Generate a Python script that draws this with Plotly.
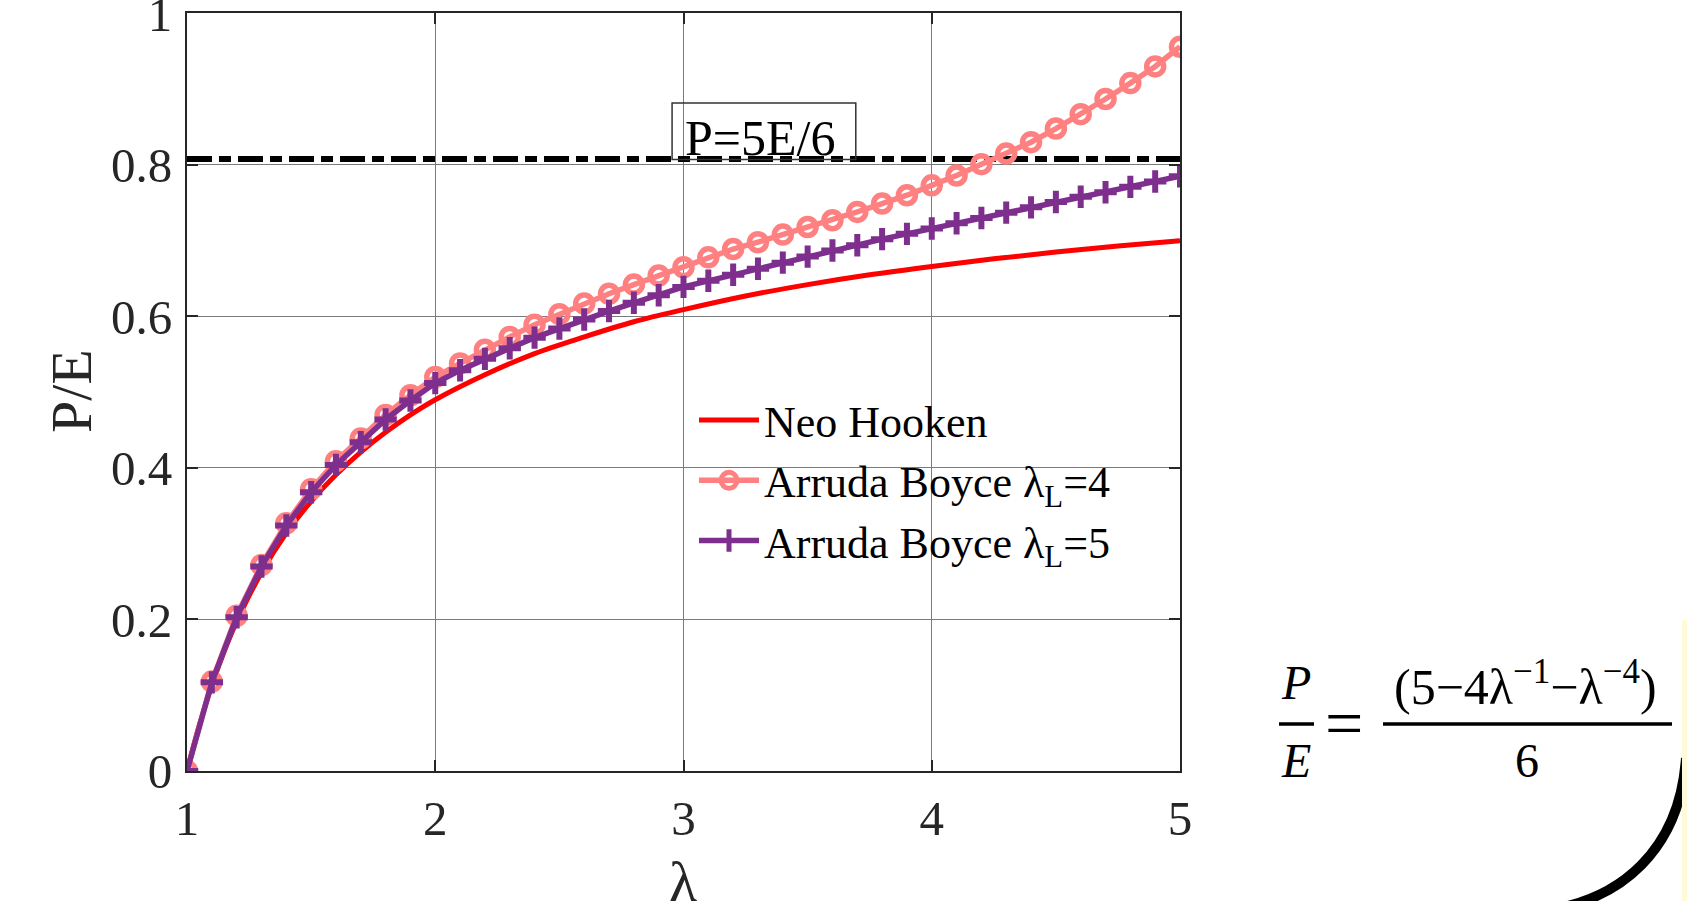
import plotly.graph_objects as go

# ---------------- data ----------------
lam = [1.0, 1.1, 1.2, 1.3, 1.4, 1.5, 1.6, 1.7, 1.8, 1.9,
       2.0, 2.1, 2.2, 2.3, 2.4, 2.5, 2.6, 2.7, 2.8, 2.9,
       3.0, 3.1, 3.2, 3.3, 3.4, 3.5, 3.6, 3.7, 3.8, 3.9,
       4.0, 4.1, 4.2, 4.3, 4.4, 4.5, 4.6, 4.7, 4.8, 4.9, 5.0]

ab4 = [0.000, 0.118, 0.205, 0.272, 0.327, 0.372, 0.409, 0.439, 0.470, 0.496,
       0.520, 0.538, 0.556, 0.573, 0.589, 0.603, 0.617, 0.630, 0.642, 0.654,
       0.665, 0.678, 0.689, 0.698, 0.708, 0.718, 0.727, 0.738, 0.749, 0.760,
       0.773, 0.786, 0.801, 0.815, 0.830, 0.848, 0.867, 0.887, 0.908, 0.930, 0.956]

ab5 = [0.000, 0.117, 0.203, 0.270, 0.324, 0.368, 0.404, 0.434, 0.464, 0.489,
       0.512, 0.529, 0.544, 0.558, 0.572, 0.584, 0.596, 0.607, 0.618, 0.628,
       0.639, 0.647, 0.655, 0.663, 0.671, 0.679, 0.687, 0.694, 0.702, 0.709,
       0.716, 0.723, 0.730, 0.737, 0.744, 0.751, 0.758, 0.764, 0.771, 0.778, 0.785]

lam_nh = [1.0, 1.05, 1.1, 1.15, 1.2, 1.3, 1.4, 1.5, 1.6, 1.7, 1.8, 1.9, 2.0,
          2.2, 2.4, 2.6, 2.8, 3.0, 3.25, 3.5, 3.75, 4.0, 4.25, 4.5, 4.75, 5.0]
neo = [0.000, 0.061, 0.113, 0.158, 0.197, 0.262, 0.314, 0.356, 0.391, 0.421,
       0.447, 0.470, 0.490, 0.523, 0.551, 0.573, 0.593, 0.609, 0.627, 0.642,
       0.655, 0.666, 0.676, 0.685, 0.693, 0.700]

limit_x = [1.0, 5.0]
limit_y = [0.8077, 0.8077]

x_ticks = [1, 2, 3, 4, 5]
y_ticks = [0, 0.2, 0.4, 0.6, 0.8, 1.0]
y_tick_text = ["0", "0.2", "0.4", "0.6", "0.8", "1"]

names = ["Neo Hooken", "Arruda Boyce λ<sub>L</sub>=4", "Arruda Boyce λ<sub>L</sub>=5"]

# ---------------- style ----------------
SERIF = "Liberation Serif, Times New Roman, serif"
RED = "#FF0000"
PINK = "#FF8080"
PURPLE = "#7E2F8E"
AXC = "#262626"

fig = go.Figure()

fig.add_trace(go.Scatter(x=limit_x, y=limit_y, mode="lines", showlegend=False,
                         line=dict(color="black", width=6, dash="25px,7px,12px,7px"),
                         hoverinfo="skip"))

fig.add_trace(go.Scatter(x=lam_nh, y=neo, mode="lines", name=names[0],
                         line=dict(color=RED, width=5, shape="spline")))

fig.add_trace(go.Scatter(x=lam, y=ab4, mode="lines+markers", name=names[1],
                         line=dict(color=PINK, width=5.5),
                         marker=dict(symbol="circle-open", size=17, color=PINK,
                                     line=dict(width=5.5, color=PINK))))

fig.add_trace(go.Scatter(x=lam, y=ab5, mode="lines+markers", name=names[2],
                         line=dict(color=PURPLE, width=5.5),
                         marker=dict(symbol="cross-thin-open", size=16, color=PURPLE,
                                     line=dict(width=6, color=PURPLE))))

axis_common = dict(
    showline=True, linecolor=AXC, linewidth=2, mirror="allticks",
    ticks="inside", ticklen=11, tickwidth=2, tickcolor=AXC,
    showgrid=True, gridcolor="#7a7a7a", gridwidth=1.3,
    zeroline=False, ticklabeloverflow="allow",
    tickfont=dict(family=SERIF, size=49, color=AXC),
)

fig.update_xaxes(range=[1, 5], tickvals=x_ticks, ticklabelstandoff=3, **axis_common)
fig.update_yaxes(range=[0, 1.0005], tickvals=y_ticks, ticktext=y_tick_text,
                 ticklabelstandoff=3, **axis_common)

W, H = 1687, 901
L, R, T, B = 187, 507, 13, 130

def px(X):
    return (X - L) / (W - L - R)

def py(Y):
    return (H - B - Y) / (H - T - B)

annotations = [
    # axis titles
    dict(text="P/E", x=px(71), y=py(391), textangle=-90,
         font=dict(family=SERIF, size=58, color=AXC)),
    dict(text="λ", x=px(683), y=py(881),
         font=dict(family=SERIF, size=58, color=AXC)),
    # P=5E/6 label (data coords)
    dict(text="P=5E/6", x=3.308, y=0.835, xref="x", yref="y",
         font=dict(family=SERIF, size=50, color="black")),
    # formula
    dict(text="<i>P</i>", x=px(1296), y=py(682),
         font=dict(family=SERIF, size=48, color="black")),
    dict(text="<i>E</i>", x=px(1296), y=py(760),
         font=dict(family=SERIF, size=48, color="black")),
    dict(text="=", x=px(1344), y=py(723),
         font=dict(family=SERIF, size=68, color="black")),
    dict(text="(5−4λ<sup>−1</sup>−λ<sup>−4</sup>)", x=px(1525), y=py(683),
         font=dict(family=SERIF, size=50, color="black")),
    dict(text="6", x=px(1527), y=py(760),
         font=dict(family=SERIF, size=48, color="black")),
]
for a in annotations:
    a.setdefault("xref", "paper")
    a.setdefault("yref", "paper")
    a.update(showarrow=False, xanchor="center", yanchor="middle")

shapes = [
    # box around P=5E/6
    dict(type="rect", xref="x", yref="y", x0=2.954, x1=3.694, y0=0.807, y1=0.8817,
         line=dict(color="#333333", width=1.5)),
    # fraction bars
    dict(type="line", xref="paper", yref="paper", x0=px(1279), x1=px(1314),
         y0=py(724), y1=py(724), line=dict(color="black", width=3.5)),
    dict(type="line", xref="paper", yref="paper", x0=px(1383), x1=px(1672),
         y0=py(724), y1=py(724), line=dict(color="black", width=3.5)),
    # black arc at bottom right
    dict(type="path", xref="paper", yref="paper",
         path=f"M {px(1686)},{py(758)} C {px(1680)},{py(845)} {px(1625)},{py(905)} {px(1530)},{py(912)}",
         line=dict(color="black", width=10)),
    # yellow strip at right edge
    dict(type="rect", xref="paper", yref="paper", x0=px(1682), x1=px(1700),
         y0=py(910), y1=py(620), line=dict(width=0), fillcolor="#FFFBD6", layer="above"),
]

fig.update_layout(
    width=W, height=H,
    margin=dict(l=L, r=R, t=T, b=B, autoexpand=False),
    paper_bgcolor="white", plot_bgcolor="white",
    showlegend=True,
    legend=dict(x=px(694), y=py(385), xanchor="left", yanchor="top",
                bgcolor="rgba(0,0,0,0)", borderwidth=0,
                font=dict(family=SERIF, size=44, color="black"),
                itemwidth=60, tracegroupgap=0),
    annotations=annotations,
    shapes=shapes,
)

fig.write_html("out.html", config={"displayModeBar": False},
               post_script="document.body.style.margin='0';document.body.style.overflow='hidden';")
